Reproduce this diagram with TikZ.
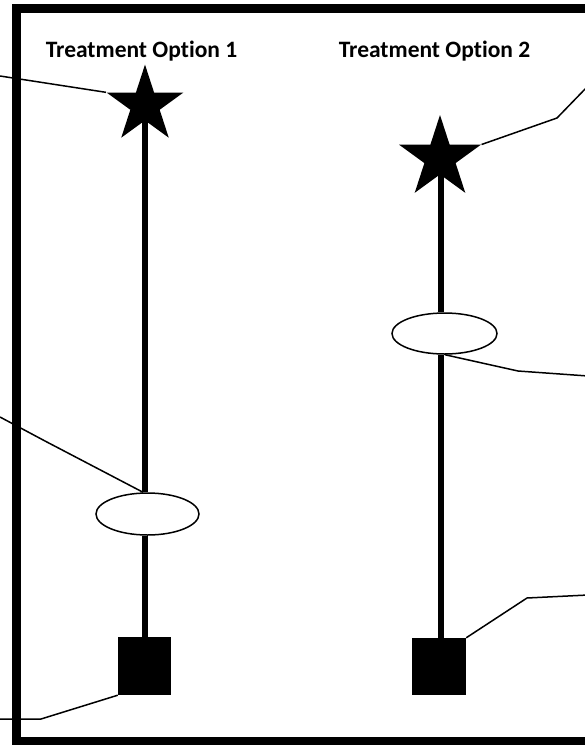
\documentclass[tikz,border=0pt]{standalone}
\usepackage{fontspec}
\setmainfont{Carlito}[Ligatures={NoCommon,NoRare}]
\usetikzlibrary{shapes.geometric}
\begin{document}
\begin{tikzpicture}[x=1pt,y=-1pt,
  frame/.style={line width=9pt},
  axis/.style={line width=5.5pt},
  leader/.style={line width=1.5pt},
  starnode/.style={star,star points=5,star point ratio=2.618,fill=black,draw=none,inner sep=0pt},
  ovalnode/.style={ellipse,draw=black,line width=1.5pt,fill=white,inner sep=0pt},
  sqnode/.style={rectangle,fill=black,draw=none,inner sep=0pt},
  title/.style={font=\fontsize{23.5}{27}\selectfont\bfseries,anchor=base,inner sep=0pt}]
\useasboundingbox (0,0) rectangle (585,745);
% frame (open on the right)
\draw[frame] (600,8.5) -- (16,8.5) -- (16,741) -- (600,741);
% titles
\node[title] (t1) at (141.5,57.5) {Treatment Option 1};
\node[title] (t2) at (434.5,57.5) {Treatment Option 2};
% option 1
\node[starnode,minimum size=80.8pt] (s1) at (145,105) {};
\node[ovalnode,minimum width=103pt,minimum height=42pt] (e1) at (147.5,514) {};
\node[sqnode,minimum width=53pt,minimum height=58pt] (q1) at (144.5,666) {};
% option 2
\node[starnode,minimum size=86pt] (s2) at (440,158) {};
\node[ovalnode,minimum width=105pt,minimum height=41pt] (e2) at (444.5,333.5) {};
\node[sqnode,minimum width=54pt,minimum height=57pt] (q2) at (439,666.5) {};
% vertical axes
\draw[axis] (s1.center -| 145,0) -- (e1.north -| 145,0);
\draw[axis] (e1.south -| 145,0) -- (q1.north -| 145,0);
\draw[axis] (s2.center -| 441,0) -- (e2.north -| 441,0);
\draw[axis] (e2.south -| 441,0) -- (q2.north -| 441,0);
% leaders
\coordinate (l1) at (0,76);
\coordinate (l2) at (0,417);
\coordinate (l3) at (0,719);
\coordinate (r1) at (588,86);
\coordinate (r2) at (588,376);
\coordinate (r3) at (588,595);
\draw[leader] (s1.outer point 2) -- (l1);
\draw[leader] (e1.north -| 143,0) -- (45,441) -- (l2);
\draw[leader] (q1.south west) -- (41,719) -- (l3);
\draw[leader] (s2.outer point 5) -- (557,118) -- (r1);
\draw[leader] (e2.south -| 445,0) -- (518,371) -- (r2);
\draw[leader] (q2.north east) -- (527,598) -- (r3);
\end{tikzpicture}
\end{document}
